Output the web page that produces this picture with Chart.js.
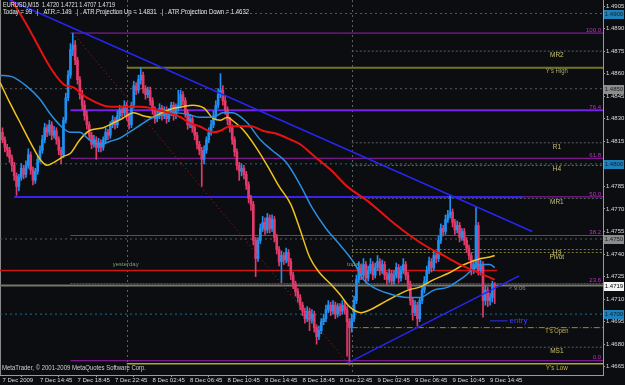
<!DOCTYPE html>
<html>
<head>
<meta charset="utf-8">
<title>EURUSD M15</title>
<script src="https://cdn.jsdelivr.net/npm/chart.js@4.4.1/dist/chart.umd.min.js"></script>
<style>
html,body{margin:0;padding:0;background:#0b0d10;overflow:hidden;}
canvas{display:block;}
</style>
</head>
<body>
<canvas id="chart" width="625" height="385"></canvas>
<script>
// ---------------- DATA ----------------
const symbolTitle = 'EURUSD,M15  1.4720 1.4721 1.4707 1.4719';
const infoLine = 'Today = 99   |   ATR = 149   |   ATR Projection Up = 1.4831   |   ATR Projection Down = 1.4632';
const footer = 'MetaTrader, \u00A9 2001-2009 MetaQuotes Software Corp.';

const firstOpen = 1.4821;
const closes = [
1.4816,1.4811,1.4809,1.4804,1.4799,1.4792,1.4785,1.4791,1.4797,1.4793,
1.4799,1.4806,1.4796,1.4789,1.4795,1.4803,1.4809,1.4816,1.4824,1.4821,
1.4826,1.4819,1.4822,1.4816,1.4809,1.4806,1.4829,1.4844,1.4859,1.4876,
1.4879,1.4869,1.4856,1.4846,1.4839,1.4832,1.4826,1.4819,1.4813,1.4816,
1.4811,1.4814,1.4811,1.4816,1.4821,1.4819,1.4826,1.4829,1.4826,1.4832,
1.4836,1.4834,1.4839,1.4832,1.4826,1.4839,1.4852,1.4849,1.4856,1.4859,
1.4850,1.4846,1.4849,1.4842,1.4836,1.4830,1.4832,1.4837,1.4832,1.4836,
1.4830,1.4834,1.4839,1.4832,1.4837,1.4839,1.4846,1.4842,1.4834,1.4826,
1.4830,1.4824,1.4819,1.4813,1.4809,1.4803,1.4809,1.4816,1.4821,1.4826,
1.4832,1.4839,1.4846,1.4849,1.4842,1.4836,1.4829,1.4824,1.4816,1.4808,
1.4799,1.4795,1.4797,1.4793,1.4786,1.4777,1.4773,1.4749,1.4737,1.4749,
1.4757,1.4761,1.4756,1.4764,1.4757,1.4763,1.4751,1.4743,1.4735,1.4739,
1.4736,1.4741,1.4735,1.4726,1.4720,1.4715,1.4711,1.4706,1.4702,1.4697,
1.4702,1.4696,1.4700,1.4691,1.4685,1.4689,1.4695,1.4697,1.4703,1.4706,
1.4702,1.4706,1.4700,1.4705,1.4702,1.4706,1.4703,1.4695,1.4691,1.4697,
1.4709,1.4723,1.4731,1.4726,1.4733,1.4724,1.4729,1.4733,1.4726,1.4731,
1.4735,1.4729,1.4733,1.4726,1.4723,1.4727,1.4722,1.4726,1.4731,1.4724,
1.4729,1.4733,1.4726,1.4720,1.4709,1.4701,1.4706,1.4697,1.4709,1.4716,
1.4722,1.4729,1.4735,1.4731,1.4739,1.4737,1.4749,1.4757,1.4755,1.4763,
1.4766,1.4768,1.4761,1.4756,1.4759,1.4751,1.4755,1.4749,1.4744,1.4739,
1.4729,1.4733,1.4759,1.4729,1.4733,1.4709,1.4716,1.4709,1.4711,1.4720,1.4719];
const highs = [
1.4824,1.4818,1.4813,1.4811,1.4806,1.4801,1.4794,1.4793,1.4800,1.4799,
1.4802,1.4810,1.4808,1.4798,1.4797,1.4805,1.4812,1.4819,1.4827,1.4826,
1.4829,1.4828,1.4825,1.4824,1.4818,1.4811,1.4831,1.4847,1.4862,1.4880,
1.4887,1.4882,1.4871,1.4858,1.4849,1.4842,1.4835,1.4828,1.4821,1.4819,
1.4818,1.4817,1.4816,1.4818,1.4824,1.4823,1.4828,1.4832,1.4831,1.4835,
1.4839,1.4838,1.4842,1.4841,1.4834,1.4841,1.4855,1.4854,1.4859,1.4864,
1.4861,1.4852,1.4851,1.4851,1.4844,1.4838,1.4835,1.4840,1.4839,1.4838,
1.4838,1.4837,1.4841,1.4841,1.4840,1.4849,1.4849,1.4848,1.4844,1.4836,
1.4833,1.4832,1.4826,1.4821,1.4815,1.4811,1.4812,1.4818,1.4824,1.4829,
1.4835,1.4842,1.4850,1.4860,1.4852,1.4845,1.4838,1.4831,1.4826,1.4818,
1.4810,1.4801,1.4800,1.4799,1.4795,1.4788,1.4779,1.4775,1.4751,1.4751,
1.4760,1.4765,1.4764,1.4767,1.4766,1.4766,1.4765,1.4753,1.4745,1.4742,
1.4741,1.4744,1.4743,1.4737,1.4728,1.4722,1.4717,1.4713,1.4708,1.4704,
1.4705,1.4704,1.4703,1.4702,1.4693,1.4692,1.4697,1.4700,1.4706,1.4709,
1.4708,1.4709,1.4708,1.4707,1.4707,1.4709,1.4708,1.4705,1.4697,1.4700,
1.4712,1.4726,1.4735,1.4733,1.4737,1.4735,1.4732,1.4737,1.4735,1.4734,
1.4739,1.4737,1.4736,1.4735,1.4728,1.4730,1.4729,1.4729,1.4734,1.4733,
1.4732,1.4737,1.4735,1.4728,1.4722,1.4711,1.4709,1.4708,1.4711,1.4719,
1.4725,1.4732,1.4738,1.4737,1.4742,1.4741,1.4752,1.4760,1.4759,1.4766,
1.4769,1.4779,1.4770,1.4763,1.4762,1.4761,1.4757,1.4757,1.4751,1.4746,
1.4741,1.4736,1.4771,1.4761,1.4736,1.4735,1.4719,1.4718,1.4714,1.4722,1.4721];
const lows = [
1.4814,1.4808,1.4805,1.4801,1.4795,1.4789,1.4779,1.4782,1.4789,1.4790,
1.4791,1.4797,1.4793,1.4786,1.4787,1.4793,1.4801,1.4807,1.4814,1.4818,
1.4819,1.4816,1.4817,1.4813,1.4806,1.4800,1.4804,1.4827,1.4842,1.4857,
1.4872,1.4866,1.4853,1.4843,1.4836,1.4829,1.4823,1.4816,1.4810,1.4811,
1.4803,1.4808,1.4808,1.4809,1.4814,1.4816,1.4817,1.4824,1.4823,1.4824,
1.4830,1.4831,1.4832,1.4829,1.4823,1.4824,1.4837,1.4846,1.4847,1.4853,
1.4847,1.4843,1.4844,1.4839,1.4833,1.4827,1.4828,1.4830,1.4829,1.4830,
1.4827,1.4828,1.4832,1.4829,1.4830,1.4835,1.4837,1.4839,1.4831,1.4823,
1.4824,1.4821,1.4816,1.4810,1.4806,1.4785,1.4800,1.4807,1.4814,1.4819,
1.4824,1.4830,1.4837,1.4844,1.4839,1.4833,1.4826,1.4821,1.4813,1.4805,
1.4796,1.4789,1.4792,1.4790,1.4783,1.4774,1.4769,1.4746,1.4725,1.4735,
1.4747,1.4755,1.4753,1.4754,1.4754,1.4755,1.4748,1.4740,1.4732,1.4721,
1.4733,1.4734,1.4732,1.4723,1.4717,1.4712,1.4708,1.4703,1.4699,1.4694,
1.4695,1.4689,1.4694,1.4688,1.4680,1.4683,1.4687,1.4693,1.4695,1.4701,
1.4699,1.4700,1.4697,1.4698,1.4699,1.4700,1.4700,1.4672,1.4666,1.4688,
1.4695,1.4707,1.4721,1.4723,1.4724,1.4721,1.4722,1.4727,1.4723,1.4724,
1.4729,1.4726,1.4727,1.4723,1.4720,1.4721,1.4719,1.4720,1.4724,1.4721,
1.4722,1.4727,1.4723,1.4717,1.4706,1.4696,1.4699,1.4692,1.4695,1.4707,
1.4714,1.4720,1.4727,1.4728,1.4729,1.4734,1.4735,1.4747,1.4752,1.4753,
1.4761,1.4764,1.4758,1.4753,1.4754,1.4748,1.4749,1.4746,1.4741,1.4736,
1.4726,1.4727,1.4730,1.4726,1.4726,1.4698,1.4706,1.4705,1.4706,1.4708,1.4707];

// moving averages (bar index, price)
const maYellowBars = [-1,3,7,12,16,19,22,26,29,33,37,43,47,51,56,60,64,68,73,77,81,86,90,93,96,98,103,109,114,118,123,127,131,135,140,144,148,153,157,164,173,178,184,190,197,204,208,210];
const maYellow = [1.4854,1.4841,1.4829,1.4814,1.4803,1.4799,1.4801,1.4805,1.4807,1.4816,1.4822,1.4824,1.4827,1.4830,1.4834,1.4832,1.4831,1.4834,1.4837,1.4838,1.4839,1.4837,1.4830,1.4829,1.4831,1.4829,1.4822,1.4809,1.4796,1.4785,1.4773,1.4756,1.4738,1.4728,1.4720,1.4713,1.4705,1.4701,1.4703,1.4709,1.4716,1.4718,1.4723,1.4727,1.4733,1.4737,1.4738,1.4739];
const maBlueBars = [-1,4,10,16,20,25,29,33,37,42,46,50,54,59,63,67,73,79,84,90,94,98,104,110,115,121,127,132,138,144,150,154,158,164,173,178,184,190,197,204,208,210];
const maBlue = [1.4859,1.4858,1.4852,1.4843,1.4834,1.4825,1.4821,1.4821,1.4816,1.4813,1.4815,1.4817,1.4821,1.4826,1.4830,1.4832,1.4834,1.4833,1.4831,1.4831,1.4834,1.4834,1.4828,1.4816,1.4809,1.4801,1.4786,1.4771,1.4757,1.4746,1.4734,1.4723,1.4718,1.4714,1.4711,1.4711,1.4716,1.4718,1.4725,1.4733,1.4733,1.4731];
const maRedBars = [2,9,26,30,36,46,53,59,66,76,80,84,90,93,97,101,106,111,117,123,127,133,140,147,156,165,175,182,187,194,201,207,210];
const maRed = [1.4914,1.4896,1.4853,1.4851,1.4844,1.4838,1.4838,1.4838,1.4836,1.4831,1.4827,1.4825,1.4821,1.4822,1.4825,1.4825,1.4825,1.4822,1.4820,1.4816,1.4813,1.4805,1.4796,1.4785,1.4775,1.4763,1.4751,1.4744,1.4740,1.4734,1.4729,1.4725,1.4723];

// axis ticks
const timeTickBars = [0,16,32,48,64,80,96,112,128,144,160,176,192,208];
const timeTickLabels = ['7 Dec 2009','7 Dec 14:45','7 Dec 18:45','7 Dec 22:45','8 Dec 02:45','8 Dec 06:45','8 Dec 10:45','8 Dec 14:45','8 Dec 18:45','8 Dec 22:45','9 Dec 02:45','9 Dec 06:45','9 Dec 10:45','9 Dec 14:45'];
const priceTicks = [1.4905,1.4890,1.4875,1.4860,1.4845,1.4830,1.4815,1.4785,1.4770,1.4755,1.4740,1.4725,1.4710,1.4695,1.4680,1.4665];
const daySeparatorBars = [53,149];

// levels
const roundLevels = [1.4900,1.4850,1.4800,1.4750,1.4700];
const fibLabels = ['100.0','76.4','61.8','50.0','38.2','23.6','0.0'];
const fibPrices = [1.4887,1.48356,1.48037,1.4778,1.47523,1.47204,1.4669];
const fibStartBar = 29;
const pivotNames = ['MR2','R1','H4','MR1','H3','Pivot','MS1'];
const pivotPrices = [1.4875,1.4814,1.4799,1.4777,1.4743,1.4741,1.4678];
const pivotStartBar = 149;
const ysHigh = 1.4864, ysLow = 1.4667, tsOpen = 1.4691, yesterdayStartBar = 53;
const yesterdayLevel = 1.4729, yesterdayLevelEndBar = 211;
const blueLevel = 1.4778, blueLevelBars = [5,222];
const bidPrice = 1.4719;
const entryPrice = 1.46955, entryBars = [208,215.5];
// trend lines: [bar, price] pairs
const trendDown = [[3,1.4909],[226,1.4755]];
const trendUp = [[147.4,1.46676],[220.4,1.47254]];
const fibDiagonal = [[30,1.4887],[148,1.4666]];
const timerText = '< 9:06', timerBar = 216, timerPrice = 1.4717;

// ---------------- CHART ----------------
const X_MIN = -1.0666, X_MAX = 256.19;
const Y_MIN = 1.46595, Y_MAX = 1.4909;
const BG = '#0b0d10';
const BULL = '#1f8ff0', BEAR = '#e23a6a';
const FONT = '"Liberation Sans", Arial, sans-serif';

const opens = closes.map((c,i)=> i===0 ? firstOpen : closes[i-1]);
const candleColors = closes.map((c,i)=> c >= opens[i] ? BULL : BEAR);

function hLine(x0, x1, p, color, width, dash, order){
  return {type:'line', data:[{x:x0,y:p},{x:x1,y:p}], borderColor:color, borderWidth:width,
          borderDash:dash||[], pointRadius:0, fill:false, order:order===undefined?20:order, tension:0};
}
function segLine(pts, color, width, dash, order){
  return {type:'line', data:pts.map(p=>({x:p[0],y:p[1]})), borderColor:color, borderWidth:width,
          borderDash:dash||[], pointRadius:0, fill:false, order:order, tension:0};
}
function maLine(bars, vals, color, width){
  return {type:'line', data:bars.map((b,i)=>({x:b,y:vals[i]})), borderColor:color, borderWidth:width,
          pointRadius:0, fill:false, order:2, tension:0.35, cubicInterpolationMode:'monotone'};
}

const datasets = [];
const roundColors = ['#1d6d8d','#5a5a5a','#1d6d8d','#5a5a5a','#1d6d8d'];
roundLevels.forEach((p,k)=>datasets.push(hLine(X_MIN,X_MAX,p,roundColors[k],1,[2,3],30)));
pivotPrices.forEach((p,k)=>{
  const col = (pivotNames[k]==='H4'||pivotNames[k]==='H3'||pivotNames[k]==='Pivot') ? '#7c7a2c' : '#55606a';
  datasets.push(hLine(pivotStartBar,X_MAX,p,col,1,[2,2],29));
});
datasets.push(hLine(yesterdayStartBar,X_MAX,ysHigh,'#75751f',2,[],28));
datasets.push(hLine(yesterdayStartBar,X_MAX,ysLow,'#b0a82a',1.5,[],28));
datasets.push(hLine(pivotStartBar,X_MAX,tsOpen,'#a08a2c',1,[6,2,1,2],28));
datasets.push(hLine(X_MIN,X_MAX,bidPrice,'#77776a',2,[],27));
fibPrices.forEach((p,k)=>{
  const thick = fibLabels[k]==='76.4';
  datasets.push(hLine(fibStartBar,X_MAX,p, thick?'#7420e8':'#9a1fae', thick?2:1, fibLabels[k]==='23.6'?[2,1]:[], 26));
});
datasets.push(hLine(blueLevelBars[0],blueLevelBars[1],blueLevel,'#3a22ea',2,[],25));
datasets.push(hLine(X_MIN,yesterdayLevelEndBar,yesterdayLevel,'#d01414',1.5,[],25));

// candles
datasets.push({type:'bar', data:closes.map((c,i)=>({x:i,y:[lows[i],highs[i]]})), backgroundColor:candleColors,
  barThickness:1, grouped:false, order:6, borderWidth:0, minBarLength:1});
datasets.push({type:'bar', data:closes.map((c,i)=>({x:i,y:[opens[i],c]})), backgroundColor:candleColors,
  barThickness:2, grouped:false, order:5, borderWidth:0, minBarLength:1});

// moving averages
datasets.push(maLine(maRedBars,maRed,'#e81212',2));
datasets.push(maLine(maBlueBars,maBlue,'#2a8ee2',1.5));
datasets.push(maLine(maYellowBars,maYellow,'#f2c21e',1.5));

// trend / drawing objects
datasets.push(segLine(fibDiagonal,'#c01818',1,[1,3],3));
datasets.push(segLine(trendDown,'#2626f4',1.5,[],1));
datasets.push(segLine(trendUp,'#2626f4',1.5,[],1));
datasets.push(segLine([[entryBars[0],entryPrice],[entryBars[1],entryPrice]],'#3030ff',1,[],1));

const decorPlugin = {
  id:'decor',
  beforeDraw(chart){
    const c = chart.ctx; c.save(); c.fillStyle = BG; c.fillRect(0,0,chart.width,chart.height); c.restore();
  },
  beforeDatasetsDraw(chart){
    const c = chart.ctx, a = chart.chartArea, xs = chart.scales.x;
    c.save(); c.strokeStyle = '#5e5e5e'; c.lineWidth = 1; c.setLineDash([2,3]);
    daySeparatorBars.forEach(b=>{ const px = Math.round(xs.getPixelForValue(b))+0.5;
      c.beginPath(); c.moveTo(px,a.top); c.lineTo(px,a.bottom); c.stroke(); });
    c.setLineDash([]);
    c.strokeStyle = '#8a8a8a'; c.beginPath(); c.moveTo(0.5,a.top); c.lineTo(0.5,a.bottom); c.stroke();
    c.restore();
  },
  afterDraw(chart){
    const c = chart.ctx, xs = chart.scales.x, ys = chart.scales.y, a = chart.chartArea;
    c.save();
    c.textBaseline = 'middle';
    // header
    c.font = '7px '+FONT; c.fillStyle = '#e4e4e4'; c.textAlign = 'left';
    c.fillText(symbolTitle, 3, 5, 112);
    c.fillText(infoLine, 3, 12, 246);
    c.fillStyle = '#d0d0d0';
    c.fillText(footer, 2, 368, 144);
    // fib labels
    c.font = '6px '+FONT;
    c.fillStyle = '#c22ec2'; c.textAlign = 'right';
    fibPrices.forEach((p,k)=> c.fillText(fibLabels[k], a.right-2, ys.getPixelForValue(p)-3));
    // pivot labels
    c.font = '6.5px '+FONT;
    c.textAlign = 'center';
    const labX = xs.getPixelForValue(236.5);
    pivotNames.forEach((n,k)=>{ c.fillStyle = '#c8c272'; c.fillText(n, labX, ys.getPixelForValue(pivotPrices[k])+ (n==='Pivot'?5:4)); });
    c.fillStyle = '#a8a672'; c.fillText("Y's High", labX, ys.getPixelForValue(ysHigh)+4, 22);
    c.fillStyle = '#c8b650'; c.fillText("T's Open", labX, ys.getPixelForValue(tsOpen)+4, 23);
    c.fillStyle = '#c0b444'; c.fillText("Y's Low", labX, ys.getPixelForValue(ysLow)+4, 22);
    // day labels
    c.font = '6px '+FONT;
    c.textAlign = 'left'; c.fillStyle = '#7c9a7c';
    c.fillText('yesterday', xs.getPixelForValue(47), ys.getPixelForValue(yesterdayLevel)-6);
    c.fillText('today', xs.getPixelForValue(147), ys.getPixelForValue(yesterdayLevel)-6);
    c.fillStyle = '#8a8a8a';
    c.fillText(timerText, xs.getPixelForValue(timerBar), ys.getPixelForValue(timerPrice));
    c.font = '8px '+FONT; c.fillStyle = '#4040ff';
    c.fillText('entry', xs.getPixelForValue(entryBars[1])+2, ys.getPixelForValue(entryPrice));
    // axis boxes
    c.font = '6px '+FONT; c.textAlign = 'center';
    const boxes = [[roundLevels[0],'#1f7fb8','#0b2030'],[roundLevels[1],'#8c8c8c','#202020'],[roundLevels[2],'#1f7fb8','#0b2030'],
                   [roundLevels[3],'#8c8c8c','#202020'],[bidPrice,'#f4f4f4','#000000'],[roundLevels[4],'#1f7fb8','#0b2030']];
    boxes.forEach(b=>{ const py = Math.round(ys.getPixelForValue(b[0]));
      c.fillStyle = b[1]; c.fillRect(a.right+1, py-4, 20, 9);
      c.fillStyle = b[2]; c.fillText(b[0].toFixed(4), a.right+11, py+0.5); });
    c.restore();
  }
};

new Chart(document.getElementById('chart'), {
  data:{datasets},
  options:{
    responsive:false, animation:false, events:[],
    layout:{padding:0},
    parsing:true,
    plugins:{legend:{display:false}, tooltip:{enabled:false}},
    scales:{
      x:{type:'linear', min:X_MIN, max:X_MAX, offset:false,
        afterBuildTicks:s=>{ s.ticks = timeTickBars.map(v=>({value:v})); },
        afterFit:s=>{ s.height = 10; s.paddingLeft=0; s.paddingRight=0; s.paddingTop=0; s.paddingBottom=0; },
        grid:{drawOnChartArea:false, drawTicks:true, tickLength:2, color:'#9a9a9a'},
        border:{display:true, color:'#9a9a9a'},
        ticks:{autoSkip:false, maxRotation:0, minRotation:0, align:'start', padding:0, color:'#dcdcdc',
          font:{size:6, family:FONT}, callback:(v,i)=>timeTickLabels[i]}
      },
      y:{type:'linear', position:'right', min:Y_MIN, max:Y_MAX,
        afterBuildTicks:s=>{ s.ticks = priceTicks.map(v=>({value:v})); },
        afterFit:s=>{ s.width = 22; s.paddingLeft=0; s.paddingRight=0; s.paddingTop=0; s.paddingBottom=0; },
        grid:{drawOnChartArea:false, drawTicks:true, tickLength:2, color:'#9a9a9a'},
        border:{display:true, color:'#9a9a9a'},
        ticks:{padding:1, color:'#dcdcdc', font:{size:6, family:FONT}, callback:v=>Number(v).toFixed(4)}
      }
    }
  },
  plugins:[decorPlugin]
});
</script>
</body>
</html>
